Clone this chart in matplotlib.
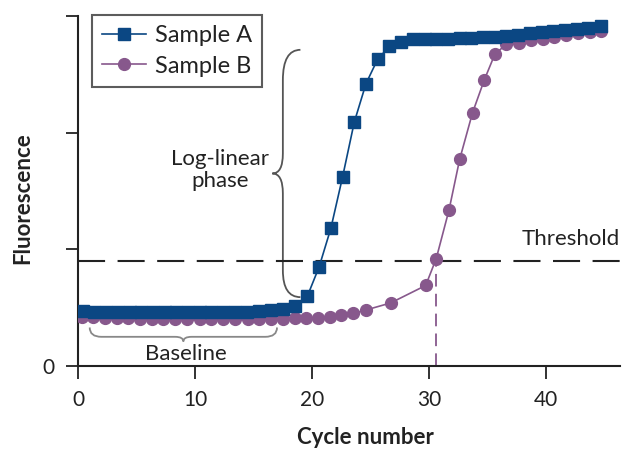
import matplotlib
matplotlib.use('Agg')
import matplotlib.pyplot as plt
from matplotlib.path import Path
from matplotlib.patches import PathPatch

plt.rcParams['font.family'] = ['Lato', 'DejaVu Sans']

# Sample A (squares)
cycles_a = [0.4, 1.4, 2.4, 3.4, 4.4, 5.4, 6.4, 7.4, 8.4, 9.4, 10.4, 11.4, 12.4, 13.4,
            14.4, 15.5, 16.5, 17.5, 18.5, 19.6, 20.6, 21.6, 22.6, 23.6, 24.6, 25.6,
            26.6, 27.6, 28.6, 29.6, 30.6, 31.6, 32.6, 33.6, 34.6, 35.6, 36.6, 37.6,
            38.6, 39.6, 40.6, 41.6, 42.6, 43.6, 44.7]
fluor_a = [0.47, 0.46, 0.46, 0.46, 0.46, 0.46, 0.46, 0.46, 0.46, 0.46, 0.46, 0.46, 0.46, 0.46,
           0.46, 0.47, 0.48, 0.49, 0.51, 0.60, 0.85, 1.18, 1.62, 2.09, 2.42, 2.63,
           2.74, 2.78, 2.80, 2.80, 2.80, 2.80, 2.81, 2.81, 2.82, 2.82, 2.83, 2.84,
           2.85, 2.86, 2.87, 2.88, 2.89, 2.90, 2.91]

# Sample B (circles)
cycles_b = [0.3, 1.3, 2.3, 3.3, 4.3, 5.3, 6.3, 7.3, 8.3, 9.3, 10.4, 11.4, 12.4, 13.4,
            14.5, 15.5, 16.5, 17.5, 18.5, 19.5, 20.5, 21.5, 22.5, 23.5, 24.6, 26.7,
            29.7, 30.6, 31.7, 32.6, 33.7, 34.7, 35.6, 36.6, 37.7, 38.7, 39.7, 40.7,
            41.7, 42.7, 43.7, 44.7]
fluor_b = [0.42, 0.42, 0.41, 0.41, 0.41, 0.40, 0.40, 0.40, 0.40, 0.40, 0.40, 0.40, 0.40, 0.40,
           0.40, 0.40, 0.40, 0.40, 0.41, 0.41, 0.41, 0.42, 0.44, 0.45, 0.48, 0.54,
           0.69, 0.92, 1.34, 1.77, 2.17, 2.45, 2.67, 2.76, 2.77, 2.79, 2.80, 2.82,
           2.84, 2.85, 2.86, 2.87]

threshold = 0.9
ct_b = 30.6

col_a = '#0b4783'
col_b = '#87588c'
ink = '#222222'

fig = plt.figure(figsize=(6.22, 4.5), dpi=100)
ax = fig.add_axes([0.1254, 0.1867, 0.8714, 0.7778])

ax.plot(cycles_a, fluor_a, '-s', color=col_a, lw=1.2, ms=8.5, mec=col_a, label='Sample A', zorder=4)
ax.plot(cycles_b, fluor_b, '-o', color=col_b, lw=1.2, ms=8.5, mec=col_b, label='Sample B', zorder=3)

# threshold line and Ct marker
ax.axhline(threshold, color=ink, lw=1.5, dashes=(13, 6), zorder=2)
ax.plot([ct_b, ct_b], [0, threshold], color=col_b, lw=1.3, dashes=(7, 4), zorder=2)
ax.text(46.3, 1.09, 'Threshold', ha='right', va='center', fontsize=16, color=ink)

# log-linear phase brace
verts = [(19.0, 2.71), (17.5, 2.71), (17.5, 2.45),
         (17.5, 1.82),
         (17.5, 1.65), (16.6, 1.65),
         (17.5, 1.65), (17.5, 1.48),
         (17.5, 0.82),
         (17.5, 0.59), (19.0, 0.59)]
codes = [Path.MOVETO, Path.CURVE3, Path.CURVE3, Path.LINETO, Path.CURVE3, Path.CURVE3,
         Path.CURVE3, Path.CURVE3, Path.LINETO, Path.CURVE3, Path.CURVE3]
ax.add_patch(PathPatch(Path(verts, codes), fill=False, ec='#555555', lw=1.3, zorder=1))
ax.text(12.1, 1.68, 'Log-linear\nphase', ha='center', va='center', fontsize=16,
        color=ink, linespacing=1.15)

# baseline brace
verts = [(1.0, 0.33), (1.0, 0.25), (2.0, 0.25),
         (8.3, 0.25),
         (9.0, 0.25), (9.0, 0.21),
         (9.0, 0.25), (9.7, 0.25),
         (16.0, 0.25),
         (17.0, 0.25), (17.0, 0.33)]
ax.add_patch(PathPatch(Path(verts, codes), fill=False, ec='#888888', lw=1.3, zorder=1))
ax.text(9.2, 0.10, 'Baseline', ha='center', va='center', fontsize=16, color=ink)

ax.set_xlim(0, 46.3)
ax.set_ylim(0, 3)
ax.set_xticks([0, 10, 20, 30, 40])
ax.set_yticks([0, 1, 2, 3])
ax.set_yticklabels(['0', '', '', ''])
ax.tick_params(direction='out', length=9, width=1.3, colors=ink, labelsize=15, pad=8)
for s in ['top', 'right']:
    ax.spines[s].set_visible(False)
for s in ['left', 'bottom']:
    ax.spines[s].set_color(ink)
    ax.spines[s].set_linewidth(1.5)

fig.text(0.588, 0.027, 'Cycle number', ha='center', va='center', fontsize=16,
         fontweight='bold', color=ink)
fig.text(0.037, 0.56, 'Fluorescence', ha='center', va='center', fontsize=16,
         fontweight='bold', color=ink, rotation=90)

leg = ax.legend(loc='upper left', bbox_to_anchor=(0.0258, 1.003), borderaxespad=0,
                fancybox=False, fontsize=17, handlelength=1.85, handletextpad=0.4,
                borderpad=0.42, labelspacing=0.42, frameon=True)
leg.get_frame().set_edgecolor('#333333')
leg.get_frame().set_linewidth(1.5)
for t in leg.get_texts():
    t.set_color(ink)

fig.savefig('out.png', dpi=100)
